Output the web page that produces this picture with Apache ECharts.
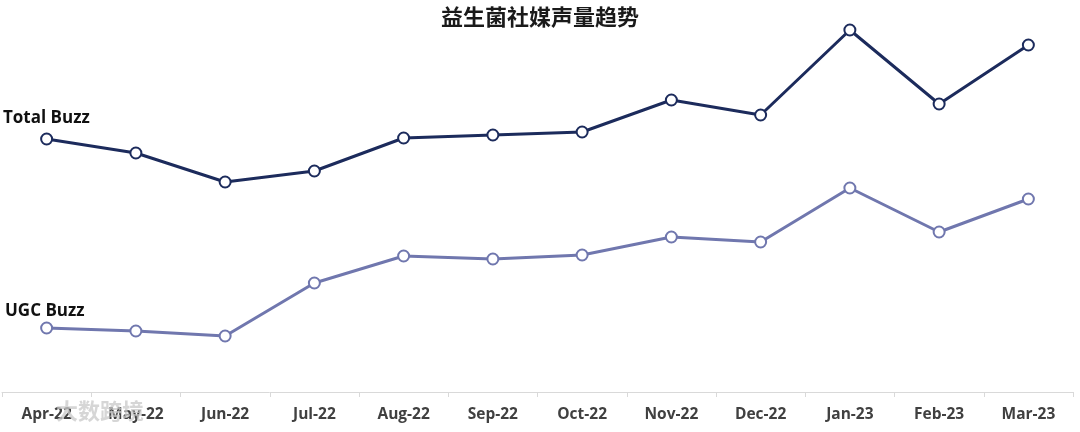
<!DOCTYPE html>
<html>
<head>
<meta charset="utf-8">
<script src="https://cdn.jsdelivr.net/npm/echarts@6/dist/echarts.min.js"></script>
<style>
html,body{margin:0;padding:0;background:#fff;}
#chart{width:1080px;height:432px;}
</style>
</head>
<body>
<div id="chart"></div>
<script>
const categories = ['Apr-22','May-22','Jun-22','Jul-22','Aug-22','Sep-22','Oct-22','Nov-22','Dec-22','Jan-23','Feb-23','Mar-23'];
const totalBuzz = [253, 239, 210, 221, 254, 257, 260, 292, 277, 362, 288, 347];
const ugcBuzz = [64, 61, 56, 109, 136, 133, 137, 155, 150, 204, 160, 193];
const titleText = '益生菌社媒声量趋势';
const seriesNames = ['Total Buzz', 'UGC Buzz'];

const chart = echarts.init(document.getElementById('chart'));
chart.setOption({
  backgroundColor: '#ffffff',
  animation: false,
  title: {
    text: titleText,
    left: 'center',
    top: 1,
    textStyle: { fontFamily: 'Noto Sans CJK SC', fontWeight: 'bold', fontSize: 22, color: '#1a1a1a' }
  },
  grid: { left: 2, right: 7, top: 12, bottom: 40 },
  xAxis: {
    type: 'category',
    data: categories,
    boundaryGap: true,
    axisLine: { lineStyle: { color: '#d9d9d9', width: 1 } },
    axisTick: { show: true, length: 5, lineStyle: { color: '#d9d9d9' } },
    axisLabel: { color: '#404040', fontFamily: 'Open Sans', fontWeight: 'bold', fontSize: 15.5, margin: 15 }
  },
  yAxis: {
    type: 'value', min: 0, max: 380,
    show: false,
    splitLine: { show: false }
  },
  series: [
    {
      name: seriesNames[0], type: 'line', data: totalBuzz,
      symbol: 'circle', symbolSize: 11,
      lineStyle: { color: '#1c2b5c', width: 3 },
      itemStyle: { color: '#ffffff', borderColor: '#1c2b5c', borderWidth: 2 }
    },
    {
      name: seriesNames[1], type: 'line', data: ugcBuzz,
      symbol: 'circle', symbolSize: 11,
      lineStyle: { color: '#7077ae', width: 3 },
      itemStyle: { color: '#ffffff', borderColor: '#7077ae', borderWidth: 2 }
    }
  ],
  graphic: [
    { type: 'text', left: 3, top: 110, style: { text: seriesNames[0], fill: '#111', font: 'bold 17px "Open Sans"' } },
    { type: 'text', left: 5, top: 303, style: { text: seriesNames[1], fill: '#111', font: 'bold 17px "Open Sans"' } },
    { type: 'text', left: 56, top: 400, z: 100, style: { text: '大数跨境', fill: 'rgba(200,200,200,0.75)', font: 'bold 22px "Noto Sans CJK SC"' } }
  ]
});
</script>
</body>
</html>
